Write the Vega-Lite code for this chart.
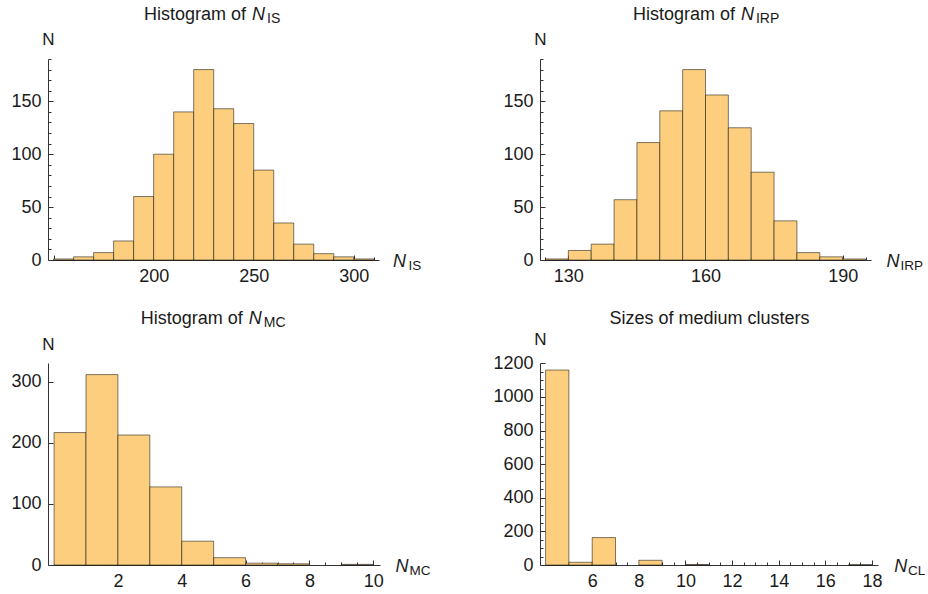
{
  "$schema": "https://vega.github.io/schema/vega-lite/v6.json",
  "padding": {"left": 10, "top": 5, "right": 0, "bottom": 0},
  "bounds": "flush",
  "columns": 2,
  "align": "none",
  "spacing": {"row": 103, "column": 160},
  "config": {
    "view": {"stroke": null},
    "font": "Liberation Sans",
    "axis": {
      "labelFont": "Liberation Sans",
      "titleFont": "Liberation Sans",
      "labelFontSize": 18,
      "labelColor": "#1a1a1a",
      "titleColor": "#1a1a1a",
      "titleFontWeight": "normal",
      "titleAngle": 0,
      "titleAlign": "left",
      "titleBaseline": "alphabetic",
      "domainColor": "#333333",
      "tickColor": "#333333",
      "grid": false,
      "labelFlush": false,
      "labelOverlap": false,
      "labelPadding": 12,
      "zindex": 1
    },
    "bar": {"fill": "#FCCE7E", "stroke": "#000000", "strokeOpacity": 0.5, "strokeWidth": 1}
  },
  "datasets": {
    "is": [
      {"lo": 150, "hi": 160, "n": 1}, {"lo": 160, "hi": 170, "n": 3}, {"lo": 170, "hi": 180, "n": 7},
      {"lo": 180, "hi": 190, "n": 18}, {"lo": 190, "hi": 200, "n": 60}, {"lo": 200, "hi": 210, "n": 100},
      {"lo": 210, "hi": 220, "n": 140}, {"lo": 220, "hi": 230, "n": 180}, {"lo": 230, "hi": 240, "n": 143},
      {"lo": 240, "hi": 250, "n": 129}, {"lo": 250, "hi": 260, "n": 85}, {"lo": 260, "hi": 270, "n": 35},
      {"lo": 270, "hi": 280, "n": 15}, {"lo": 280, "hi": 290, "n": 6}, {"lo": 290, "hi": 300, "n": 3},
      {"lo": 300, "hi": 310, "n": 1}
    ],
    "irp": [
      {"lo": 125, "hi": 130, "n": 1}, {"lo": 130, "hi": 135, "n": 9}, {"lo": 135, "hi": 140, "n": 15},
      {"lo": 140, "hi": 145, "n": 57}, {"lo": 145, "hi": 150, "n": 111}, {"lo": 150, "hi": 155, "n": 141},
      {"lo": 155, "hi": 160, "n": 180}, {"lo": 160, "hi": 165, "n": 156}, {"lo": 165, "hi": 170, "n": 125},
      {"lo": 170, "hi": 175, "n": 83}, {"lo": 175, "hi": 180, "n": 37}, {"lo": 180, "hi": 185, "n": 7},
      {"lo": 185, "hi": 190, "n": 3}, {"lo": 190, "hi": 195, "n": 1}
    ],
    "mc": [
      {"lo": 0, "hi": 1, "n": 217}, {"lo": 1, "hi": 2, "n": 312}, {"lo": 2, "hi": 3, "n": 213},
      {"lo": 3, "hi": 4, "n": 128}, {"lo": 4, "hi": 5, "n": 39}, {"lo": 5, "hi": 6, "n": 12},
      {"lo": 6, "hi": 7, "n": 3}, {"lo": 7, "hi": 8, "n": 2}, {"lo": 9, "hi": 10, "n": 1}
    ],
    "cl": [
      {"lo": 4, "hi": 5, "n": 1160}, {"lo": 5, "hi": 6, "n": 16}, {"lo": 6, "hi": 7, "n": 163},
      {"lo": 8, "hi": 9, "n": 28}, {"lo": 10, "hi": 11, "n": 3}, {"lo": 17, "hi": 18, "n": 2}
    ]
  },
  "concat": [
    {
      "width": 331,
      "height": 201,
      "data": {"name": "is"},
      "encoding": {"x2": {"field": "hi"}, "y2": {"datum": 0}},
      "resolve": {"axis": {"x": "independent", "y": "independent"}},
      "layer": [
        {
          "mark": "bar",
          "encoding": {
            "x": {"field": "lo", "type": "quantitative",
              "scale": {"domain": [147.2, 312.6], "nice": false, "zero": false},
              "axis": {
                "values": [150, 160, 170, 180, 190, 200, 210, 220, 230, 240, 250, 260, 270, 280, 290, 300, 310],
                "labelExpr": "datum.value % 50 === 0 && datum.value >= 200 ? format(datum.value, 'd') : ''",
                "tickSize": {"condition": {"test": "datum.value % 50 === 0", "value": -5}, "value": -3},
                "title": "N", "titleFontStyle": "italic", "titleFontSize": 18, "titleX": 344.5, "titleY": 6.5
              }},
            "y": {"field": "n", "type": "quantitative",
              "scale": {"domain": [0, 190], "nice": false},
              "axis": {
                "values": [0, 10, 20, 30, 40, 50, 60, 70, 80, 90, 100, 110, 120, 130, 140, 150, 160, 170, 180, 190],
                "labelExpr": "datum.value % 50 === 0 ? format(datum.value, 'd') : ''",
                "tickSize": {"condition": {"test": "datum.value % 50 === 0", "value": -5}, "value": -3},
                "title": "N", "titleFontSize": 17, "titleAlign": "center", "titleX": 0, "titleY": -15
              }}
          }
        },
        {
          "mark": {"type": "bar", "opacity": 0},
          "encoding": {
            "x": {"field": "lo", "type": "quantitative",
              "scale": {"domain": [147.2, 312.6], "nice": false, "zero": false},
              "axis": {"orient": "bottom", "domain": false, "ticks": false, "labels": false,
                "title": "IS", "titleFontSize": 13.5, "titleX": 360, "titleY": 9.5}},
            "y": {"field": "n", "type": "quantitative", "scale": {"domain": [0, 190], "nice": false}, "axis": null}
          }
        },
        {
          "mark": {"type": "bar", "opacity": 0},
          "encoding": {
            "x": {"field": "lo", "type": "quantitative",
              "scale": {"domain": [147.2, 312.6], "nice": false, "zero": false},
              "axis": {"orient": "top", "domain": false, "ticks": false, "labels": false,
                "title": "Histogram of", "titleFontSize": 18, "titleX": 95.5, "titleY": -39.5}},
            "y": {"field": "n", "type": "quantitative", "scale": {"domain": [0, 190], "nice": false}, "axis": null}
          }
        },
        {
          "mark": {"type": "bar", "opacity": 0},
          "encoding": {
            "x": {"field": "lo", "type": "quantitative",
              "scale": {"domain": [147.2, 312.6], "nice": false, "zero": false},
              "axis": {"orient": "top", "domain": false, "ticks": false, "labels": false,
                "title": "N", "titleFontStyle": "italic", "titleFontSize": 18, "titleX": 203.5, "titleY": -39.5}},
            "y": {"field": "n", "type": "quantitative", "scale": {"domain": [0, 190], "nice": false}, "axis": null}
          }
        },
        {
          "mark": {"type": "bar", "opacity": 0},
          "encoding": {
            "x": {"field": "lo", "type": "quantitative",
              "scale": {"domain": [147.2, 312.6], "nice": false, "zero": false},
              "axis": {"orient": "top", "domain": false, "ticks": false, "labels": false,
                "title": "IS", "titleFontSize": 14, "titleX": 218.5, "titleY": -36.5}},
            "y": {"field": "n", "type": "quantitative", "scale": {"domain": [0, 190], "nice": false}, "axis": null}
          }
        }
      ]
    },
    {
      "width": 331,
      "height": 201,
      "data": {"name": "irp"},
      "encoding": {"x2": {"field": "hi"}, "y2": {"datum": 0}},
      "resolve": {"axis": {"x": "independent", "y": "independent"}},
      "layer": [
        {
          "mark": "bar",
          "encoding": {
            "x": {"field": "lo", "type": "quantitative",
              "scale": {"domain": [123.8, 196.2], "nice": false, "zero": false},
              "axis": {
                "values": [125, 130, 135, 140, 145, 150, 155, 160, 165, 170, 175, 180, 185, 190, 195],
                "labelExpr": "(datum.value - 130) % 30 === 0 ? format(datum.value, 'd') : ''",
                "tickSize": {"condition": {"test": "(datum.value - 130) % 30 === 0", "value": -5}, "value": -3},
                "title": "N", "titleFontStyle": "italic", "titleFontSize": 18, "titleX": 346, "titleY": 6.5
              }},
            "y": {"field": "n", "type": "quantitative",
              "scale": {"domain": [0, 190], "nice": false},
              "axis": {
                "values": [0, 10, 20, 30, 40, 50, 60, 70, 80, 90, 100, 110, 120, 130, 140, 150, 160, 170, 180, 190],
                "labelExpr": "datum.value % 50 === 0 ? format(datum.value, 'd') : ''",
                "tickSize": {"condition": {"test": "datum.value % 50 === 0", "value": -5}, "value": -3},
                "title": "N", "titleFontSize": 17, "titleAlign": "center", "titleX": 0, "titleY": -15
              }}
          }
        },
        {
          "mark": {"type": "bar", "opacity": 0},
          "encoding": {
            "x": {"field": "lo", "type": "quantitative",
              "scale": {"domain": [123.8, 196.2], "nice": false, "zero": false},
              "axis": {"orient": "bottom", "domain": false, "ticks": false, "labels": false,
                "title": "IRP", "titleFontSize": 13.5, "titleX": 360, "titleY": 9.5}},
            "y": {"field": "n", "type": "quantitative", "scale": {"domain": [0, 190], "nice": false}, "axis": null}
          }
        },
        {
          "mark": {"type": "bar", "opacity": 0},
          "encoding": {
            "x": {"field": "lo", "type": "quantitative",
              "scale": {"domain": [123.8, 196.2], "nice": false, "zero": false},
              "axis": {"orient": "top", "domain": false, "ticks": false, "labels": false,
                "title": "Histogram of", "titleFontSize": 18, "titleX": 92.4, "titleY": -39.5}},
            "y": {"field": "n", "type": "quantitative", "scale": {"domain": [0, 190], "nice": false}, "axis": null}
          }
        },
        {
          "mark": {"type": "bar", "opacity": 0},
          "encoding": {
            "x": {"field": "lo", "type": "quantitative",
              "scale": {"domain": [123.8, 196.2], "nice": false, "zero": false},
              "axis": {"orient": "top", "domain": false, "ticks": false, "labels": false,
                "title": "N", "titleFontStyle": "italic", "titleFontSize": 18, "titleX": 200.4, "titleY": -39.5}},
            "y": {"field": "n", "type": "quantitative", "scale": {"domain": [0, 190], "nice": false}, "axis": null}
          }
        },
        {
          "mark": {"type": "bar", "opacity": 0},
          "encoding": {
            "x": {"field": "lo", "type": "quantitative",
              "scale": {"domain": [123.8, 196.2], "nice": false, "zero": false},
              "axis": {"orient": "top", "domain": false, "ticks": false, "labels": false,
                "title": "IRP", "titleFontSize": 14, "titleX": 215.4, "titleY": -36.5}},
            "y": {"field": "n", "type": "quantitative", "scale": {"domain": [0, 190], "nice": false}, "axis": null}
          }
        }
      ]
    },
    {
      "width": 332,
      "height": 202,
      "data": {"name": "mc"},
      "encoding": {"x2": {"field": "hi"}, "y2": {"datum": 0}},
      "resolve": {"axis": {"x": "independent", "y": "independent"}},
      "layer": [
        {
          "mark": "bar",
          "encoding": {
            "x": {"field": "lo", "type": "quantitative",
              "scale": {"domain": [-0.19, 10.21], "nice": false, "zero": false},
              "axis": {
                "values": [0, 0.5, 1, 1.5, 2, 2.5, 3, 3.5, 4, 4.5, 5, 5.5, 6, 6.5, 7, 7.5, 8, 8.5, 9, 9.5, 10],
                "labelExpr": "datum.value % 2 === 0 && datum.value > 0 ? format(datum.value, 'd') : ''",
                "tickSize": {"condition": {"test": "datum.value % 2 === 0", "value": -5}, "value": -3},
                "title": "N", "titleFontStyle": "italic", "titleFontSize": 18, "titleX": 347, "titleY": 6
              }},
            "y": {"field": "n", "type": "quantitative",
              "scale": {"domain": [0, 331], "nice": false},
              "axis": {
                "values": [0, 100, 200, 300],
                "labelExpr": "format(datum.value, 'd')",
                "tickSize": -5,
                "title": "N", "titleFontSize": 17, "titleAlign": "center", "titleX": 0, "titleY": -14
              }}
          }
        },
        {
          "mark": {"type": "bar", "opacity": 0},
          "encoding": {
            "x": {"field": "lo", "type": "quantitative",
              "scale": {"domain": [-0.19, 10.21], "nice": false, "zero": false},
              "axis": {"orient": "bottom", "domain": false, "ticks": false, "labels": false,
                "title": "MC", "titleFontSize": 13.5, "titleX": 361, "titleY": 9.5}},
            "y": {"field": "n", "type": "quantitative", "scale": {"domain": [0, 331], "nice": false}, "axis": null}
          }
        },
        {
          "mark": {"type": "bar", "opacity": 0},
          "encoding": {
            "x": {"field": "lo", "type": "quantitative",
              "scale": {"domain": [-0.19, 10.21], "nice": false, "zero": false},
              "axis": {"orient": "top", "domain": false, "ticks": false, "labels": false,
                "title": "Histogram of", "titleFontSize": 18, "titleX": 92.3, "titleY": -39.5}},
            "y": {"field": "n", "type": "quantitative", "scale": {"domain": [0, 331], "nice": false}, "axis": null}
          }
        },
        {
          "mark": {"type": "bar", "opacity": 0},
          "encoding": {
            "x": {"field": "lo", "type": "quantitative",
              "scale": {"domain": [-0.19, 10.21], "nice": false, "zero": false},
              "axis": {"orient": "top", "domain": false, "ticks": false, "labels": false,
                "title": "N", "titleFontStyle": "italic", "titleFontSize": 18, "titleX": 200.3, "titleY": -39.5}},
            "y": {"field": "n", "type": "quantitative", "scale": {"domain": [0, 331], "nice": false}, "axis": null}
          }
        },
        {
          "mark": {"type": "bar", "opacity": 0},
          "encoding": {
            "x": {"field": "lo", "type": "quantitative",
              "scale": {"domain": [-0.19, 10.21], "nice": false, "zero": false},
              "axis": {"orient": "top", "domain": false, "ticks": false, "labels": false,
                "title": "MC", "titleFontSize": 14, "titleX": 215.3, "titleY": -36.5}},
            "y": {"field": "n", "type": "quantitative", "scale": {"domain": [0, 331], "nice": false}, "axis": null}
          }
        }
      ]
    },
    {
      "width": 338,
      "height": 202,
      "data": {"name": "cl"},
      "encoding": {"x2": {"field": "hi"}, "y2": {"datum": 0}},
      "resolve": {"axis": {"x": "independent", "y": "independent"}},
      "layer": [
        {
          "mark": "bar",
          "encoding": {
            "x": {"field": "lo", "type": "quantitative",
              "scale": {"domain": [3.76, 18.26], "nice": false, "zero": false},
              "axis": {
                "values": [4, 4.5, 5, 5.5, 6, 6.5, 7, 7.5, 8, 8.5, 9, 9.5, 10, 10.5, 11, 11.5, 12, 12.5, 13, 13.5, 14, 14.5, 15, 15.5, 16, 16.5, 17, 17.5, 18],
                "labelExpr": "datum.value % 2 === 0 && datum.value >= 6 ? format(datum.value, 'd') : ''",
                "tickSize": {"condition": {"test": "datum.value % 2 === 0", "value": -5}, "value": -3},
                "title": "N", "titleFontStyle": "italic", "titleFontSize": 18, "titleX": 353.7, "titleY": 6
              }},
            "y": {"field": "n", "type": "quantitative",
              "scale": {"domain": [0, 1202], "nice": false},
              "axis": {
                "values": [0, 50, 100, 150, 200, 250, 300, 350, 400, 450, 500, 550, 600, 650, 700, 750, 800, 850, 900, 950, 1000, 1050, 1100, 1150, 1200],
                "labelExpr": "datum.value % 200 === 0 ? format(datum.value, 'd') : ''",
                "tickSize": {"condition": {"test": "datum.value % 200 === 0", "value": -5}, "value": -3},
                "title": "N", "titleFontSize": 17, "titleAlign": "center", "titleX": 0, "titleY": -18.5
              }}
          }
        },
        {
          "mark": {"type": "bar", "opacity": 0},
          "encoding": {
            "x": {"field": "lo", "type": "quantitative",
              "scale": {"domain": [3.76, 18.26], "nice": false, "zero": false},
              "axis": {"orient": "bottom", "domain": false, "ticks": false, "labels": false,
                "title": "CL", "titleFontSize": 13.5, "titleX": 367.5, "titleY": 9.5}},
            "y": {"field": "n", "type": "quantitative", "scale": {"domain": [0, 1202], "nice": false}, "axis": null}
          }
        },
        {
          "mark": {"type": "bar", "opacity": 0},
          "encoding": {
            "x": {"field": "lo", "type": "quantitative",
              "scale": {"domain": [3.76, 18.26], "nice": false, "zero": false},
              "axis": {"orient": "top", "domain": false, "ticks": false, "labels": false,
                "title": "Sizes of medium clusters", "titleFontSize": 18, "titleAlign": "center", "titleX": 169, "titleY": -39.5}},
            "y": {"field": "n", "type": "quantitative", "scale": {"domain": [0, 1202], "nice": false}, "axis": null}
          }
        }
      ]
    }
  ]
}
